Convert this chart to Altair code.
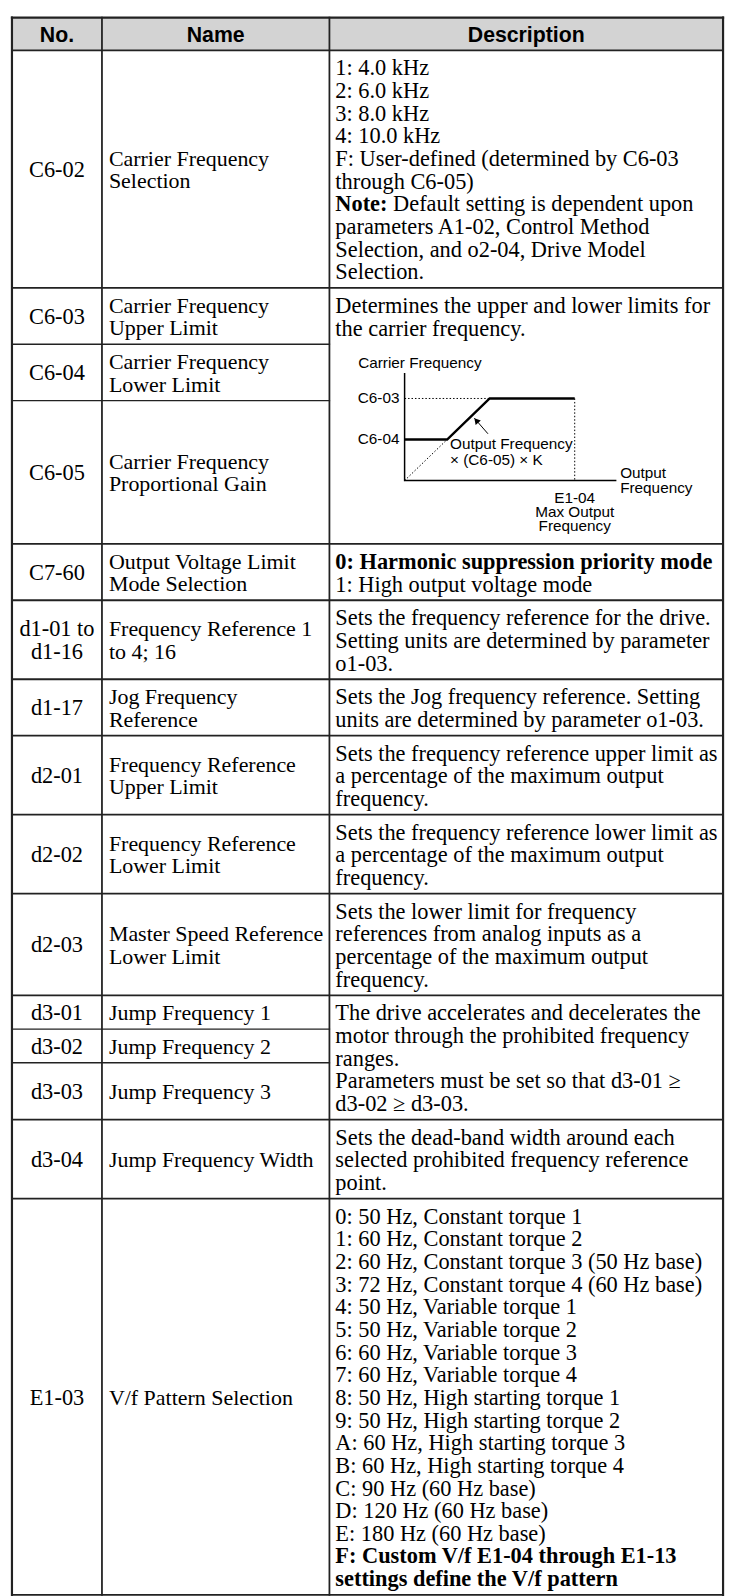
import math
import altair as alt
import pandas as pd

# ---------------- table content ----------------
header = ["No.", "Name", "Description"]

numbers = [
    ["C6-02"], ["C6-03"], ["C6-04"], ["C6-05"], ["C7-60"],
    ["d1-01 to", "d1-16"], ["d1-17"], ["d2-01"], ["d2-02"], ["d2-03"],
    ["d3-01"], ["d3-02"], ["d3-03"], ["d3-04"], ["E1-03"],
]

names = [
    ["Carrier Frequency", "Selection"],
    ["Carrier Frequency", "Upper Limit"],
    ["Carrier Frequency", "Lower Limit"],
    ["Carrier Frequency", "Proportional Gain"],
    ["Output Voltage Limit", "Mode Selection"],
    ["Frequency Reference 1", "to 4; 16"],
    ["Jog Frequency", "Reference"],
    ["Frequency Reference", "Upper Limit"],
    ["Frequency Reference", "Lower Limit"],
    ["Master Speed Reference", "Lower Limit"],
    ["Jump Frequency 1"],
    ["Jump Frequency 2"],
    ["Jump Frequency 3"],
    ["Jump Frequency Width"],
    ["V/f Pattern Selection"],
]

# "**...**" marks bold text
desc_c6_02 = [
    "1: 4.0 kHz", "2: 6.0 kHz", "3: 8.0 kHz", "4: 10.0 kHz",
    "F: User-defined (determined by C6-03", "through C6-05)",
    "**Note:** Default setting is dependent upon",
    "parameters A1-02, Control Method",
    "Selection, and o2-04, Drive Model", "Selection.",
]
desc_c6_limits = ["Determines the upper and lower limits for", "the carrier frequency."]
desc_c7_60 = ["**0: Harmonic suppression priority mode**", "1: High output voltage mode"]
desc_d1_01 = ["Sets the frequency reference for the drive.",
              "Setting units are determined by parameter", "o1-03."]
desc_d1_17 = ["Sets the Jog frequency reference. Setting",
              "units are determined by parameter o1-03."]
desc_d2_01 = ["Sets the frequency reference upper limit as",
              "a percentage of the maximum output", "frequency."]
desc_d2_02 = ["Sets the frequency reference lower limit as",
              "a percentage of the maximum output", "frequency."]
desc_d2_03 = ["Sets the lower limit for frequency", "references from analog inputs as a",
              "percentage of the maximum output", "frequency."]
desc_d3_jump = ["The drive accelerates and decelerates the",
                "motor through the prohibited frequency", "ranges.",
                "Parameters must be set so that d3-01 \u2265", "d3-02 \u2265 d3-03."]
desc_d3_04 = ["Sets the dead-band width around each",
              "selected prohibited frequency reference", "point."]
desc_e1_03 = [
    "0: 50 Hz, Constant torque 1", "1: 60 Hz, Constant torque 2",
    "2: 60 Hz, Constant torque 3 (50 Hz base)", "3: 72 Hz, Constant torque 4 (60 Hz base)",
    "4: 50 Hz, Variable torque 1", "5: 50 Hz, Variable torque 2",
    "6: 60 Hz, Variable torque 3", "7: 60 Hz, Variable torque 4",
    "8: 50 Hz, High starting torque 1", "9: 50 Hz, High starting torque 2",
    "A: 60 Hz, High starting torque 3", "B: 60 Hz, High starting torque 4",
    "C: 90 Hz (60 Hz base)", "D: 120 Hz (60 Hz base)", "E: 180 Hz (60 Hz base)",
    "**F: Custom V/f E1-04 through E1-13**", "**settings define the V/f pattern**",
]

# (first row, rows spanned, lines, has graph)
descriptions = [
    (0, 1, desc_c6_02, False),
    (1, 3, desc_c6_limits, True),
    (4, 1, desc_c7_60, False),
    (5, 1, desc_d1_01, False),
    (6, 1, desc_d1_17, False),
    (7, 1, desc_d2_01, False),
    (8, 1, desc_d2_02, False),
    (9, 1, desc_d2_03, False),
    (10, 3, desc_d3_jump, False),
    (13, 1, desc_d3_04, False),
    (14, 1, desc_e1_03, False),
]

# ---------------- carrier frequency graph (x: output freq / E1-04, y: carrier freq / C6-03) ----
curve_x = [0.0, 0.25, 0.5, 1.0]
curve_y = [0.5, 0.5, 1.0, 1.0]
guide_x = [[0.0, 0.25], [0.0, 0.5], [1.0, 1.0]]
guide_y = [[0.0, 0.5], [1.0, 1.0], [1.0, 0.0]]
axes_x = [0.0, 0.0, 1.245]
axes_y = [1.31, 0.0, 0.0]
arrow_x = [0.49, 0.41]
arrow_y = [0.57, 0.76]
graph_texts = ["Carrier Frequency", "C6-03", "C6-04", "Output Frequency",
               "\u00d7 (C6-05) \u00d7 K", "Output", "Frequency", "E1-04",
               "Max Output", "Frequency"]

# ---------------- layout ----------------
CHART_W, CHART_H = 729, 1588
LEFT, COL1, COL2, RIGHT = 12, 103, 333, 731
TOP, HEAD_BOTTOM = 9, 42
LH, PAD = 22.9, 11.2
FIRST_LINE = 18.3
GRAPH_H = 201.8
GRAPH_DX, GRAPH_DY = 76, 194.8
GX, GY = 172, 83
SERIF, SANS = "Liberation Serif", "Liberation Sans"
FS, NAME_FS, HEAD_FS, GRAPH_FS = 22.6, 22.2, 21.5, 15.5
LINE_COLOR = "#222222"
graph_text_pos = [(-0.273, 1.434, "left"), (-0.03, 1.0, "right"), (-0.03, 0.5, "right"),
                  (0.267, 0.446, "left"), (0.267, 0.253, "left"), (1.267, 0.096, "left"),
                  (1.267, -0.096, "left"), (1.0, -0.21, "center"), (1.0, -0.385, "center"),
                  (1.0, -0.56, "center")]

# Times-Bold advance widths (per 1000 em) for inline bold prefixes
BOLD_W = {"N": 722, "o": 500, "t": 333, "e": 444, ":": 333, " ": 250}

X = alt.X("x:Q", scale=alt.Scale(domain=[8, 8 + CHART_W], nice=False, zero=False), axis=None)
Y = alt.Y("y:Q", scale=alt.Scale(domain=[8, 8 + CHART_H], nice=False, zero=False, reverse=True), axis=None)

# ---- rows ----
n = len(numbers)
row_top = [0.0] * (n + 1)
group_top = {}
group_starts = set()
y = HEAD_BOTTOM
for start, span, lines, has_graph in descriptions:
    gtop = y
    group_top[start] = gtop
    group_starts.add(start)
    total = len(lines) * LH + PAD + (GRAPH_H if has_graph else 0)
    for r in range(start, start + span):
        row_top[r] = y
        if r < start + span - 1:
            y += max(len(numbers[r]), len(names[r])) * LH + PAD
    y = gtop + total
row_top[n] = y
bottom = y

# ---- rules ----
rules = []
rules.append(dict(x=LEFT, x2=RIGHT, y=TOP, y2=TOP, w=2.2))
rules.append(dict(x=LEFT, x2=RIGHT, y=HEAD_BOTTOM, y2=HEAD_BOTTOM, w=1.8))
for r in range(1, n + 1):
    yy = row_top[r]
    full = (r in group_starts) or r == n
    rules.append(dict(x=LEFT, x2=RIGHT if full else COL2, y=yy, y2=yy, w=1.8 if full else 1.4))
for xx, w in [(LEFT, 2.2), (COL1, 1.8), (COL2, 1.8), (RIGHT, 2.2)]:
    rules.append(dict(x=xx, x2=xx, y=TOP, y2=bottom, w=w))
rules_df = pd.DataFrame(rules)

header_df = pd.DataFrame([dict(x=LEFT, x2=RIGHT, y=TOP, y2=HEAD_BOTTOM)])

# ---- texts ----
head_txt = []
centers = [(LEFT + COL1) / 2, (COL1 + COL2) / 2, (COL2 + RIGHT) / 2]
for c, t in zip(centers, header):
    head_txt.append(dict(x=c, y=(TOP + HEAD_BOTTOM) / 2 + 2, text=t))

num_txt, name_txt, reg_txt, bold_txt = [], [], [], []
for r in range(n):
    mid = (row_top[r] + row_top[r + 1]) / 2 + 1
    for k, t in enumerate(numbers[r]):
        num_txt.append(dict(x=(LEFT + COL1) / 2, y=mid + (k - (len(numbers[r]) - 1) / 2) * LH, text=t))
    for k, t in enumerate(names[r]):
        name_txt.append(dict(x=COL1 + 7, y=mid + (k - (len(names[r]) - 1) / 2) * LH, text=t))

for start, span, lines, has_graph in descriptions:
    gtop = group_top[start]
    for k, line in enumerate(lines):
        yy = gtop + FIRST_LINE + k * LH
        xx = COL2 + 6
        parts = line.split("**")
        for i, p in enumerate(parts):
            if not p:
                continue
            bold = i % 2 == 1
            lead = len(p) - len(p.lstrip(" "))
            xx += lead * 0.25 * FS
            s = p.strip(" ")
            (bold_txt if bold else reg_txt).append(dict(x=xx, y=yy, text=s))
            if bold:
                xx += sum(BOLD_W.get(ch, 500) for ch in s) / 1000 * FS
            trail = len(p) - len(p.rstrip(" "))
            xx += trail * 0.25 * FS

# ---- graph ----
gx0 = COL2 + GRAPH_DX
gy0 = group_top[1] + GRAPH_DY


def px(gx, gy):
    return gx0 + gx * GX, gy0 - gy * GY


def poly(xs, ys, seg):
    out = []
    for i, (a, b) in enumerate(zip(xs, ys)):
        p = px(a, b)
        out.append(dict(x=p[0], y=p[1], seg=seg, ord=i))
    return out


curve_df = pd.DataFrame(poly(curve_x, curve_y, 0))
guide_df = pd.DataFrame([rec for s, (xs, ys) in enumerate(zip(guide_x, guide_y)) for rec in poly(xs, ys, s)])
axes_df = pd.DataFrame(poly(axes_x, axes_y, 0))
shaft_df = pd.DataFrame(poly(arrow_x, arrow_y, 0))

tail = px(arrow_x[0], arrow_y[0])
tip = px(arrow_x[1], arrow_y[1])
dx, dy = tip[0] - tail[0], tip[1] - tail[1]
ln = math.hypot(dx, dy)
ux, uy = dx / ln, dy / ln
HEAD_SIZE = 48
h = math.sqrt(3) * (math.sqrt(HEAD_SIZE) / 2) / 2
head_df = pd.DataFrame([dict(x=tip[0] - ux * h, y=tip[1] - uy * h)])
head_angle = math.degrees(math.atan2(dx, -dy)) % 360

glabels = {"left": [], "right": [], "center": []}
for t, (a, b, al) in zip(graph_texts, graph_text_pos):
    p = px(a, b)
    glabels[al].append(dict(x=p[0], y=p[1], text=t))

# ---------------- layers ----------------
layers = []
layers.append(alt.Chart(header_df).mark_rect(color="#d3d3d3").encode(
    x=X, x2="x2:Q", y=Y, y2="y2:Q"))
layers.append(alt.Chart(rules_df).mark_rule(color=LINE_COLOR, strokeCap="square").encode(
    x=X, x2="x2:Q", y=Y, y2="y2:Q", strokeWidth=alt.StrokeWidth("w:Q", scale=None)))


def text_layer(rows, font, size, weight="normal", align="left"):
    return alt.Chart(pd.DataFrame(rows)).mark_text(
        font=font, fontSize=size, fontWeight=weight, align=align,
        baseline="middle", color="black").encode(x=X, y=Y, text="text:N")


layers.append(text_layer(head_txt, SANS, HEAD_FS, "bold", "center"))
layers.append(text_layer(num_txt, SERIF, FS, "normal", "center"))
layers.append(text_layer(name_txt, SERIF, NAME_FS, "normal", "left"))
layers.append(text_layer(reg_txt, SERIF, FS, "normal", "left"))
layers.append(text_layer(bold_txt, SERIF, FS, "bold", "left"))

layers.append(alt.Chart(guide_df).mark_line(color="black", strokeWidth=1, strokeDash=[1.5, 2]).encode(
    x=X, y=Y, detail="seg:N", order="ord:Q"))
layers.append(alt.Chart(axes_df).mark_line(color="black", strokeWidth=1.5).encode(
    x=X, y=Y, order="ord:Q"))
layers.append(alt.Chart(curve_df).mark_line(color="black", strokeWidth=2.5, strokeJoin="miter").encode(
    x=X, y=Y, order="ord:Q"))
layers.append(alt.Chart(shaft_df).mark_line(color="black", strokeWidth=1).encode(
    x=X, y=Y, order="ord:Q"))
layers.append(alt.Chart(head_df).mark_point(
    shape="triangle-up", filled=True, color="black", opacity=1, size=HEAD_SIZE,
    angle=head_angle).encode(x=X, y=Y))
for al, rows in glabels.items():
    layers.append(text_layer(rows, SANS, GRAPH_FS, "normal", al))

chart = alt.layer(*layers).properties(
    width=CHART_W, height=CHART_H, padding=0,
    autosize=alt.AutoSizeParams(type="none"),
).configure_view(stroke=None)

chart.save("out.html", embed_options={"renderer": "svg", "actions": False})
